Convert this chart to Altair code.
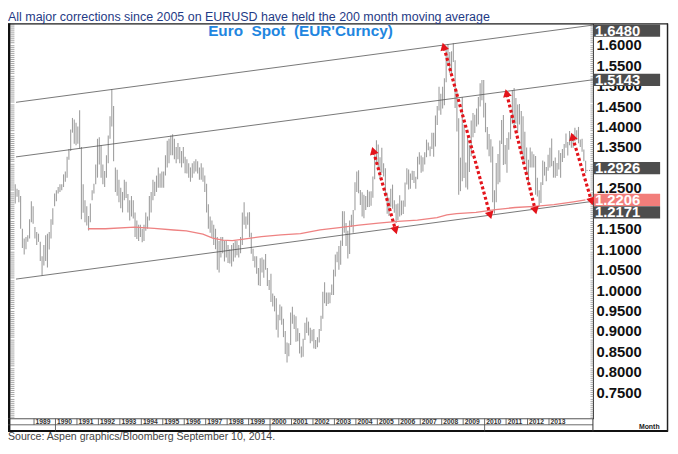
import math
import altair as alt
import pandas as pd

FONT = "Liberation Sans"
RED = "#e3141b"

# ---------------- data ----------------
first_bar = (1988, 2)  # first monthly bar: Feb 1988

bar_high = [
    # 1988 (Feb-Dec)
    1.259, 1.248, 1.245, 1.230, 1.150, 1.126, 1.130, 1.134, 1.173, 1.217, 1.205,
    # 1989
    1.154, 1.142, 1.138, 1.118, 1.083, 1.110, 1.134, 1.138, 1.142, 1.173, 1.200, 1.236,
    # 1990
    1.244, 1.252, 1.259, 1.259, 1.283, 1.290, 1.326, 1.345, 1.393, 1.421, 1.417, 1.409,
    # 1991
    1.400, 1.440, 1.350, 1.259, 1.220, 1.205, 1.181, 1.212, 1.244, 1.260, 1.307, 1.370,
    # 1992
    1.374, 1.354, 1.307, 1.291, 1.330, 1.378, 1.425, 1.491, 1.450, 1.300, 1.294, 1.270,
    # 1993
    1.250, 1.240, 1.270, 1.265, 1.235, 1.220, 1.230, 1.220, 1.190, 1.170, 1.160, 1.160,
    # 1994
    1.150, 1.160, 1.190, 1.180, 1.230, 1.240, 1.270, 1.265, 1.280, 1.300, 1.285, 1.290,
    # 1995
    1.290, 1.330, 1.365, 1.370, 1.378, 1.381, 1.370, 1.350, 1.360, 1.350, 1.340, 1.350,
    # 1996
    1.326, 1.320, 1.310, 1.300, 1.310, 1.315, 1.320, 1.315, 1.300, 1.310, 1.300, 1.280,
    # 1997
    1.260, 1.210, 1.180, 1.170, 1.160, 1.150, 1.130, 1.120, 1.130, 1.130, 1.120, 1.120,
    # 1998
    1.110, 1.100, 1.110, 1.115, 1.120, 1.120, 1.110, 1.130, 1.190, 1.215, 1.180, 1.190,
    # 1999
    1.1906, 1.1400, 1.1010, 1.0830, 1.0830, 1.0540, 1.0780, 1.0800, 1.0750, 1.0880, 1.0540, 1.0250,
    # 2000
    1.0400, 0.9920, 0.9860, 0.9800, 0.9400, 0.9650, 0.9600, 0.9300, 0.9000, 0.8720, 0.8700, 0.9450,
    # 2001
    0.9590, 0.9400, 0.9360, 0.9070, 0.8950, 0.8620, 0.8810, 0.9200, 0.9330, 0.9230, 0.9080, 0.9030,
    # 2002
    0.9050, 0.8780, 0.8850, 0.9050, 0.9370, 0.9960, 1.0190, 0.9940, 0.9940, 0.9940, 1.0140, 1.0500,
    # 2003
    1.0870, 1.0940, 1.1080, 1.1210, 1.1930, 1.1930, 1.1640, 1.1450, 1.1700, 1.1840, 1.1960, 1.2640,
    # 2004
    1.2900, 1.2930, 1.2450, 1.2390, 1.2330, 1.2300, 1.2450, 1.2410, 1.2420, 1.2780, 1.3300, 1.3667,
    # 2005
    1.3560, 1.3250, 1.3480, 1.3100, 1.2980, 1.2380, 1.2260, 1.2480, 1.2580, 1.2200, 1.2100, 1.2120,
    # 2006
    1.2320, 1.2190, 1.2190, 1.2630, 1.2980, 1.2950, 1.2850, 1.2920, 1.2910, 1.2770, 1.3260, 1.3370,
    # 2007
    1.3290, 1.3250, 1.3370, 1.3680, 1.3610, 1.3510, 1.3850, 1.3850, 1.4270, 1.4500, 1.4970, 1.4800,
    # 2008
    1.4970, 1.5180, 1.5900, 1.6020, 1.5820, 1.5840, 1.6038, 1.5620, 1.4870, 1.4200, 1.3240, 1.4720,
    # 2009
    1.4050, 1.3120, 1.3740, 1.3540, 1.4150, 1.4330, 1.4290, 1.4440, 1.4720, 1.5060, 1.5140, 1.5140,
    # 2010
    1.4580, 1.3990, 1.3820, 1.3690, 1.3510, 1.2440, 1.3110, 1.3330, 1.3660, 1.4160, 1.4280, 1.3550,
    # 2011
    1.3720, 1.3860, 1.4250, 1.4880, 1.4940, 1.4700, 1.4540, 1.4550, 1.4380, 1.4250, 1.3870, 1.3490,
    # 2012
    1.3190, 1.3490, 1.3390, 1.3320, 1.3280, 1.2750, 1.2440, 1.2640, 1.3170, 1.3140, 1.3010, 1.3310,
    # 2013
    1.3480, 1.3710, 1.3160, 1.3240, 1.3110, 1.3420, 1.3350, 1.3450, 1.3570, 1.3830, 1.3620, 1.3890,
    # 2014 (Jan-Sep)
    1.3740, 1.3820, 1.3970, 1.3910, 1.3990, 1.3680, 1.3700, 1.3440, 1.3160,
]

bar_low = [
    # 1988 (Feb-Dec)
    1.212, 1.228, 1.215, 1.150, 1.103, 1.087, 1.100, 1.118, 1.126, 1.166, 1.162,
    # 1989
    1.126, 1.110, 1.118, 1.071, 1.036, 1.060, 1.071, 1.055, 1.099, 1.126, 1.160, 1.205,
    # 1990
    1.217, 1.236, 1.240, 1.244, 1.252, 1.265, 1.275, 1.319, 1.340, 1.385, 1.358, 1.354,
    # 1991
    1.358, 1.346, 1.173, 1.189, 1.166, 1.158, 1.146, 1.166, 1.220, 1.236, 1.259, 1.275,
    # 1992
    1.307, 1.275, 1.259, 1.252, 1.275, 1.310, 1.370, 1.400, 1.315, 1.240, 1.231, 1.215,
    # 1993
    1.200, 1.190, 1.220, 1.225, 1.190, 1.170, 1.180, 1.175, 1.130, 1.125, 1.120, 1.130,
    # 1994
    1.117, 1.120, 1.145, 1.150, 1.170, 1.190, 1.220, 1.230, 1.240, 1.250, 1.250, 1.250,
    # 1995
    1.250, 1.280, 1.300, 1.310, 1.330, 1.330, 1.320, 1.310, 1.320, 1.310, 1.300, 1.310,
    # 1996
    1.286, 1.285, 1.275, 1.265, 1.275, 1.285, 1.290, 1.285, 1.270, 1.270, 1.265, 1.240,
    # 1997
    1.190, 1.150, 1.140, 1.130, 1.110, 1.100, 1.050, 1.043, 1.080, 1.090, 1.070, 1.080,
    # 1998
    1.066, 1.065, 1.058, 1.070, 1.080, 1.085, 1.080, 1.090, 1.110, 1.160, 1.150, 1.160,
    # 1999
    1.1290, 1.0890, 1.0710, 1.0550, 1.0400, 1.0120, 1.0100, 1.0430, 1.0300, 1.0500, 1.0100, 1.0000,
    # 2000
    0.9710, 0.9600, 0.9480, 0.9030, 0.8840, 0.9260, 0.9150, 0.8850, 0.8440, 0.8228, 0.8380, 0.8660,
    # 2001
    0.9180, 0.9050, 0.8740, 0.8750, 0.8450, 0.8350, 0.8370, 0.8780, 0.8950, 0.8890, 0.8700, 0.8750,
    # 2002
    0.8570, 0.8560, 0.8600, 0.8720, 0.9000, 0.9300, 0.9680, 0.9610, 0.9660, 0.9680, 0.9880, 0.9880,
    # 2003
    1.0330, 1.0680, 1.0500, 1.0620, 1.1080, 1.1400, 1.1080, 1.0770, 1.0880, 1.1540, 1.1400, 1.1950,
    # 2004
    1.2400, 1.2370, 1.2080, 1.1800, 1.1760, 1.1960, 1.2030, 1.2030, 1.2060, 1.2260, 1.2710, 1.3110,
    # 2005
    1.2940, 1.2720, 1.2870, 1.2780, 1.2290, 1.1870, 1.1810, 1.2040, 1.1990, 1.1890, 1.1640, 1.1710,
    # 2006
    1.1800, 1.1830, 1.1860, 1.2040, 1.2580, 1.2460, 1.2480, 1.2690, 1.2620, 1.2480, 1.2710, 1.3070,
    # 2007
    1.2870, 1.2900, 1.3070, 1.3250, 1.3420, 1.3270, 1.3450, 1.3260, 1.3510, 1.4040, 1.4390, 1.4290,
    # 2008
    1.4440, 1.4520, 1.5080, 1.5480, 1.5300, 1.5290, 1.5580, 1.4450, 1.3880, 1.2330, 1.2420, 1.2660,
    # 2009
    1.2740, 1.2510, 1.2460, 1.2890, 1.3270, 1.3740, 1.3840, 1.4000, 1.4050, 1.4490, 1.4640, 1.4220,
    # 2010
    1.3860, 1.3440, 1.3270, 1.3120, 1.2150, 1.1876, 1.2150, 1.2590, 1.2640, 1.3570, 1.3060, 1.3080,
    # 2011
    1.2870, 1.3430, 1.3690, 1.4070, 1.3970, 1.4070, 1.3840, 1.4050, 1.3360, 1.3140, 1.3140, 1.2860,
    # 2012
    1.2620, 1.3000, 1.3000, 1.3000, 1.2330, 1.2290, 1.2040, 1.2130, 1.2570, 1.2800, 1.2660, 1.2920,
    # 2013
    1.3000, 1.3030, 1.2750, 1.2750, 1.2790, 1.2950, 1.2750, 1.3130, 1.3230, 1.3480, 1.3290, 1.3540,
    # 2014 (Jan-Sep)
    1.3480, 1.3480, 1.3640, 1.3670, 1.3590, 1.3500, 1.3380, 1.3150, 1.2860,
]

# 200-month moving average (readings along the red line)
ma_time = [1991.51, 1992.33, 1993.69, 1994.60, 1995.51, 1996.10, 1996.87, 1997.33,
           1997.78, 1998.24, 1998.69, 1999.60, 2000.51, 2001.42, 2002.33, 2003.23,
           2004.14, 2005.05, 2005.96, 2006.87, 2007.78, 2008.24, 2008.69, 2009.60,
           2010.51, 2011.42, 2012.33, 2013.23, 2014.14, 2014.70]
ma_value = [1.150, 1.150, 1.154, 1.151, 1.147, 1.145, 1.137, 1.127,
            1.122, 1.121, 1.124, 1.131, 1.135, 1.138, 1.147, 1.153,
            1.159, 1.164, 1.168, 1.171, 1.177, 1.184, 1.187, 1.190,
            1.197, 1.202, 1.205, 1.209, 1.216, 1.2206]

# parallel channel lines (start / end)
channel_time = [1988.16, 2015.048]
channel_top = [1.4592, 1.6480]
channel_mid = [1.3257, 1.5143]
channel_bot = [1.0269, 1.2171]

# correction arrows: peak end -> trough end
arrow_top_t = [2004.825, 2008.110, 2011.035, 2014.107]
arrow_top_v = [1.3382, 1.5929, 1.4790, 1.3729]
arrow_bot_t = [2005.838, 2010.245, 2012.353, 2014.970]
arrow_bot_v = [1.1488, 1.1856, 1.1974, 1.2196]

last_close = 1.2926
last_close_time = [2014.75, 2015.048]

# visible right-axis labels (1.3000 and 1.2000 sit under the value boxes)
axis_values = [0.75, 0.80, 0.85, 0.90, 0.95, 1.00, 1.05, 1.10, 1.15,
               1.25, 1.35, 1.40, 1.45, 1.50, 1.55, 1.60]
box_values = [1.6480, 1.5143, 1.2926, 1.2206, 1.2171]
box_labels = ["1.6480", "1.5143", "1.2926", "1.2206", "1.2171"]
box_colors = ["#4d4d4d", "#4d4d4d", "#4d4d4d", "#f27e7b", "#4d4d4d"]

year_labels = list(range(1989, 2014))
decade_marks = [1990, 2000, 2010]

title_text = "All major corrections since 2005 on EURUSD have held the 200 month moving average"
chart_title = "Euro\u00a0\u00a0Spot\u00a0\u00a0(EUR'Curncy)"
source_text = "Source: Aspen graphics/Bloomberg September 10, 2014."

# ---------------- layout / styles ----------------
W, H = 592, 400
T0, T1 = 1987.787, 2015.048
YMIN, YMAX = 0.6856, 1.652
PXX = W / (T1 - T0)
PXY = H / (YMAX - YMIN)
box_shift_px = [5.6, 0.0, -2.3, 0.0, 11.3]
BOX_H = 12.4

xs = alt.Scale(domain=[T0, T1], nice=False, zero=False)
ys = alt.Scale(domain=[YMIN, YMAX], nice=False, zero=False)

n = len(bar_high)
bar_t = [first_bar[0] + (first_bar[1] - 1 + i + 0.5) / 12 for i in range(n)]
bars_df = pd.DataFrame({"t": bar_t, "hi": bar_high, "lo": bar_low})
ma_df = pd.DataFrame({"t": ma_time, "v": ma_value})
ch_df = pd.DataFrame({
    "t": channel_time * 3,
    "v": channel_top + channel_mid + channel_bot,
    "line": ["top"] * 2 + ["mid"] * 2 + ["bot"] * 2,
})
ar_df = pd.DataFrame({"t1": arrow_top_t, "v1": arrow_top_v,
                      "t2": arrow_bot_t, "v2": arrow_bot_v})

heads = []
for t1, v1, t2, v2 in zip(arrow_top_t, arrow_top_v, arrow_bot_t, arrow_bot_v):
    dxs = (t1 - t2) * PXX
    dys = -(v1 - v2) * PXY
    ang = math.degrees(math.atan2(dxs, -dys)) % 360
    heads.append({"t": t1, "v": v1, "ang": ang})
    heads.append({"t": t2, "v": v2, "ang": (ang + 180) % 360})
head_df = pd.DataFrame(heads)

close_df = pd.DataFrame({"t": [last_close_time[0]], "t2": [last_close_time[1]], "v": [last_close]})

box_rows = []
for val, lab, col, sh in zip(box_values, box_labels, box_colors, box_shift_px):
    pos = val - sh / PXY
    box_rows.append({"label": lab, "col": col, "pos": pos,
                     "top": pos + (BOX_H / 2) / PXY, "bot": pos - (BOX_H / 2) / PXY})
box_df = pd.DataFrame(box_rows)

year_df = pd.DataFrame({"yr": year_labels, "label": [str(y) for y in year_labels]})
decade_df = pd.DataFrame({"yr": decade_marks})
one = pd.DataFrame({"a": [0]})

minor_vals = [round(0.690 + 0.005 * i, 3) for i in range(193)]

right_axis = alt.Axis(orient="right", values=axis_values, format=".4f", labelFont=FONT,
                      labelFontSize=15, labelFontWeight="bold", labelColor="#111111",
                      labelPadding=3, labelFlush=False, labelOverlap=False, ticks=False,
                      domain=True, domainColor="#333333", domainWidth=1, grid=False, title=None)
minor_right = alt.Axis(orient="right", offset=-3, values=minor_vals, labels=False, domain=False,
                       ticks=True, tickSize=3, tickColor="#777777", tickWidth=0.6, grid=False, title=None)
minor_left = alt.Axis(orient="left", offset=-6, values=minor_vals, labels=False, domain=False,
                      ticks=True, tickSize=4, tickColor="#666666", tickWidth=0.6, grid=False, title=None)

X = lambda f: alt.X(f, scale=xs, axis=None)

bars = alt.Chart(bars_df).mark_rule(color="#9f9f9f", strokeWidth=1.1).encode(
    x=X("t:Q"), y=alt.Y("lo:Q", scale=ys, axis=right_axis), y2="hi:Q")

ma = alt.Chart(ma_df).mark_line(color="#ee8282", strokeWidth=1.3).encode(
    x=X("t:Q"), y=alt.Y("v:Q", scale=ys, axis=minor_right))

channel = alt.Chart(ch_df).mark_line(color="#555555", strokeWidth=0.8).encode(
    x=X("t:Q"), y=alt.Y("v:Q", scale=ys, axis=minor_left), detail="line:N")

arrows = alt.Chart(ar_df).mark_rule(color=RED, strokeWidth=3.2, strokeDash=[3, 2.4]).encode(
    x=X("t1:Q"), y=alt.Y("v1:Q", scale=ys, axis=None), x2="t2:Q", y2="v2:Q")

arrow_heads = alt.Chart(head_df).mark_point(shape="triangle", filled=True, size=80,
                                            color=RED, opacity=1).encode(
    x=X("t:Q"), y=alt.Y("v:Q", scale=ys, axis=None), angle=alt.Angle("ang:Q", scale=None))

close_line = alt.Chart(close_df).mark_rule(color="#888888", strokeWidth=1, strokeDash=[1, 1.5]).encode(
    x=X("t:Q"), x2="t2:Q", y=alt.Y("v:Q", scale=ys, axis=None))


def hrule(x1, x2, y, w, c="#222222"):
    return alt.Chart(one).mark_rule(color=c, strokeWidth=w).encode(
        x=alt.value(x1), x2=alt.value(x2), y=alt.value(y))


def vrule(x, y1, y2, w, c="#222222"):
    return alt.Chart(one).mark_rule(color=c, strokeWidth=w).encode(
        x=alt.value(x), y=alt.value(y1), y2=alt.value(y2))


frame = [
    hrule(0, 668, 0.5, 1.2),
    hrule(0, 668, 412.5, 2.2, "#111111"),
    vrule(1.2, 0, 413, 2.4, "#111111"),
    vrule(667.5, 0, 413, 1.5),
    hrule(0, 592, 400, 0.8, "#444444"),
    hrule(0, 592, 406.2, 0.8, "#444444"),
    vrule(592, 400, 413, 1, "#333333"),
]

year_div = alt.Chart(year_df).mark_rule(color="#444444", strokeWidth=0.8).encode(
    x=X("yr:Q"), y=alt.value(400), y2=alt.value(406.2))
year_txt = alt.Chart(year_df).mark_text(align="left", baseline="middle", dx=1.6, font=FONT,
                                        fontSize=6.8, fontWeight="bold", color="#333333").encode(
    x=X("yr:Q"), y=alt.value(403.4), text="label:N")
decade_div = alt.Chart(decade_df).mark_rule(color="#444444", strokeWidth=0.8).encode(
    x=X("yr:Q"), y=alt.value(406.2), y2=alt.value(413))

boxes = alt.Chart(box_df).mark_rect().encode(
    x=alt.value(593), x2=alt.value(660),
    y=alt.Y("top:Q", scale=ys, axis=None), y2="bot:Q",
    color=alt.Color("col:N", scale=None))
box_txt = alt.Chart(box_df).mark_text(align="left", baseline="middle", font=FONT, fontSize=15,
                                      fontWeight="bold", color="white").encode(
    x=alt.value(594), y=alt.Y("pos:Q", scale=ys, axis=None), text="label:N")


def label(txt, x, y, size, color, weight="normal", align="left"):
    return alt.Chart(one).mark_text(align=align, baseline="alphabetic", font=FONT, fontSize=size,
                                    fontWeight=weight, color=color).encode(
        x=alt.value(x), y=alt.value(y), text=alt.value(txt))


texts = [
    label(title_text, 0, -2.5, 12.6, "#1f3b86"),
    label(chart_title, 296, 12.8, 15.5, "#1f86e0", "bold", "center"),
    label(source_text, 0, 421.5, 10.7, "#444444"),
    label("Month", 649, 410.6, 7, "#222222", "bold", "center"),
]

chart = alt.layer(
    bars, ma, channel, close_line, arrows, arrow_heads,
    *frame, year_div, year_txt, decade_div, boxes, box_txt, *texts,
).resolve_scale(x="shared", y="shared").resolve_axis(y="independent").properties(
    width=W, height=H,
    autosize=alt.AutoSizeParams(type="none"),
    padding={"left": 0, "top": 13, "right": 78, "bottom": 25},
).configure_view(stroke=None).configure(background="white")

chart.save("out.html", embed_options={"renderer": "svg", "actions": False})
